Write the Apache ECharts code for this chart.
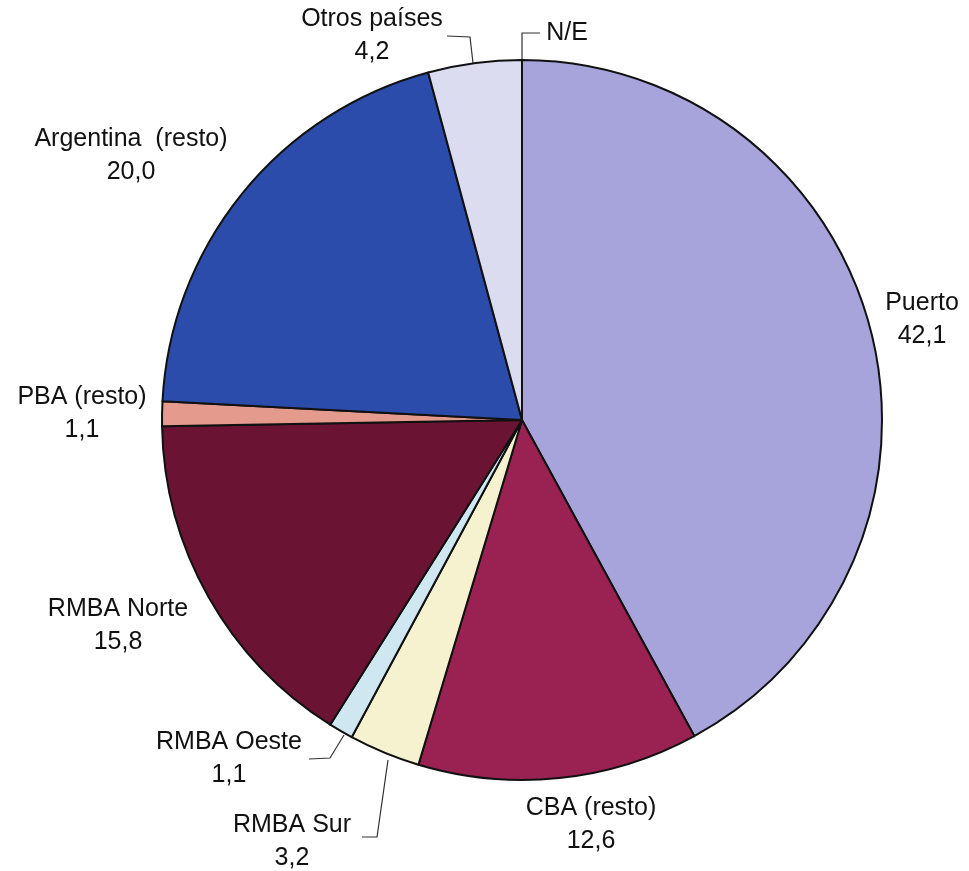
<!DOCTYPE html>
<html>
<head>
<meta charset="utf-8">
<script src="https://cdn.jsdelivr.net/npm/echarts@6/dist/echarts.min.js"></script>
<style>
  html, body { margin: 0; padding: 0; background: #ffffff; }
  #chart { width: 969px; height: 871px; }
</style>
</head>
<body>
<div id="chart"></div>
<script>
// data, clockwise from 12 o'clock
const categories = ["Puerto", "CBA (resto)", "RMBA Sur", "RMBA Oeste", "RMBA Norte", "PBA (resto)", "Argentina  (resto)", "Otros países", "N/E"];
const values = [42.1, 12.6, 3.2, 1.1, 15.8, 1.1, 20.0, 4.2, 0];
const showValue = [true, true, true, true, true, true, true, true, false];

const colors = ["#a7a4dc", "#9a2252", "#f6f2cf", "#cfe7f1", "#6a1332", "#e49a8c", "#2c4cab", "#dcdcf1", "#cccccc"];

// label centres and leader lines (layout only)
const labelPos = [
  [922, 320], [591, 825], [292, 842], [229, 759], [118, 626],
  [82, 414], [131, 156], [372, 36], [567, 33]
];
const leaders = {
  3: [[344, 735], [330, 758], [309, 759]],
  2: [[388, 760], [377, 837], [362, 837]],
  7: [[473, 63], [470, 37], [447, 36]],
  8: [[522, 60], [522, 33], [540, 33]]
};

const chart = echarts.init(document.getElementById("chart"));
chart.setOption({
  backgroundColor: "#ffffff",
  animation: false,
  series: [
    {
      type: "pie",
      center: [522, 420],
      radius: 360,
      startAngle: 90,
      clockwise: true,
      avoidLabelOverlap: false,
      stillShowZeroSum: true,
      data: categories.map((c, i) => ({
        name: c,
        value: values[i],
        itemStyle: { color: colors[i] }
      })),
      itemStyle: { borderColor: "#111111", borderWidth: 2 },
      label: {
        show: true,
        position: "outside",
        color: "#111111",
        fontFamily: "Liberation Sans, Arial, sans-serif",
        fontSize: 25,
        lineHeight: 33,
        align: "center",
        formatter: function (p) {
          if (!showValue[p.dataIndex]) return p.name;
          return p.name + "\n" + p.value.toFixed(1).replace(".", ",");
        }
      },
      labelLine: { show: true, lineStyle: { color: "#333333", width: 1.2 } },
      labelLayout: function (params) {
        const i = params.dataIndex;
        const pos = labelPos[i];
        const res = { x: pos[0], y: pos[1], align: "center", verticalAlign: "middle" };
        res.labelLinePoints = leaders[i] || [[0, 0], [0, 0], [0, 0]];
        return res;
      },
      emphasis: { disabled: true }
    }
  ]
});
</script>
</body>
</html>
